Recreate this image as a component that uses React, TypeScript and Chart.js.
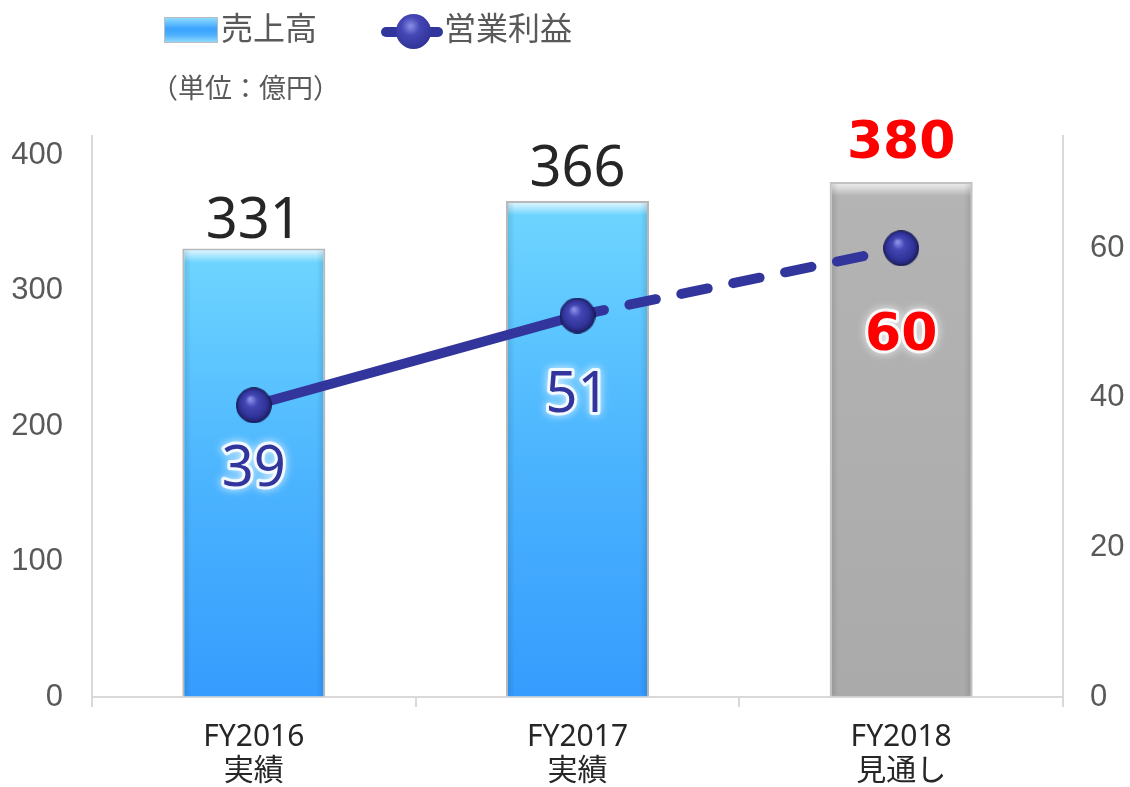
import React, { useEffect, useRef } from "react";
import { Chart, registerables } from "chart.js";

Chart.register(...registerables);

// ---- data ----
const categories: string[][] = [
  ["FY2016", "実績"],
  ["FY2017", "実績"],
  ["FY2018", "見通し"],
];
const sales: number[] = [331, 366, 380];
const operatingProfit: number[] = [39, 51, 60];
const isForecast: boolean[] = [false, false, true];
const leftTicks: number[] = [0, 100, 200, 300, 400];
const rightTicks: number[] = [0, 20, 40, 60];
const legendSales = "売上高";
const legendProfit = "営業利益";
const unitText = "（単位：億円）";

const NAVY = "#32359b";
const LATIN = "'Noto Sans', 'Noto Sans CJK JP', sans-serif";
const CJK = "'Noto Sans CJK JP', 'Noto Sans', sans-serif";

function makeSphere(d: number): HTMLCanvasElement {
  const c = document.createElement("canvas");
  c.width = d;
  c.height = d;
  const g = c.getContext("2d")!;
  const r = d / 2;
  const grad = g.createRadialGradient(r * 0.8, r * 0.65, 1, r, r, r);
  grad.addColorStop(0, "#8a8ee6");
  grad.addColorStop(0.3, "#4548b5");
  grad.addColorStop(0.75, "#2f3296");
  grad.addColorStop(1, "#1a1c5c");
  g.fillStyle = grad;
  g.beginPath();
  g.arc(r, r, r - 0.5, 0, Math.PI * 2);
  g.fill();
  g.strokeStyle = "rgba(20,20,70,0.8)";
  g.lineWidth = 1;
  g.stroke();
  return c;
}

const barLabelGap = [10, 15, 24];
const lineLabelDy = [81, 96, 102];

const valueLabelPlugin = {
  id: "valueLabels",
  afterDatasetsDraw(chart: any) {
    const ctx = chart.ctx as CanvasRenderingContext2D;
    const barMeta = chart.getDatasetMeta(0);
    const lineMeta = chart.getDatasetMeta(1);
    ctx.save();
    ctx.textAlign = "center";
    ctx.textBaseline = "alphabetic";
    barMeta.data.forEach((el: any, i: number) => {
      const txt = String(sales[i]);
      const y = el.y - barLabelGap[i];
      if (isForecast[i]) {
        ctx.font = "bold 52px 'DejaVu Sans', sans-serif";
        ctx.fillStyle = "#ff0000";
      } else {
        ctx.font = `56px ${LATIN}`;
        ctx.fillStyle = "#262626";
      }
      ctx.fillText(txt, el.x, y);
    });
    lineMeta.data.forEach((el: any, i: number) => {
      const txt = String(operatingProfit[i]);
      const y = el.y + lineLabelDy[i];
      if (isForecast[i]) {
        ctx.font = "bold 52px 'DejaVu Sans', sans-serif";
      } else {
        ctx.font = `56px ${LATIN}`;
      }
      ctx.lineJoin = "round";
      ctx.save();
      ctx.shadowColor = "rgba(255,255,255,0.95)";
      ctx.shadowBlur = 8;
      ctx.strokeStyle = "rgba(255,255,255,0.85)";
      ctx.lineWidth = 6;
      ctx.strokeText(txt, el.x, y);
      ctx.restore();
      ctx.fillStyle = isForecast[i] ? "#ff0000" : NAVY;
      ctx.fillText(txt, el.x, y);
    });
    ctx.restore();
  },
};

const bevelPlugin = {
  id: "bevel",
  afterDatasetDraw(chart: any, args: any) {
    if (args.index !== 0) return;
    const ctx = chart.ctx as CanvasRenderingContext2D;
    const meta = chart.getDatasetMeta(0);
    ctx.save();
    meta.data.forEach((el: any) => {
      const left = el.x - el.width / 2 + 2;
      const right = el.x + el.width / 2 - 2;
      const top = el.y + 2;
      const base = el.base - 1;
      const w = right - left;
      const gt = ctx.createLinearGradient(0, top, 0, top + 12);
      gt.addColorStop(0, "rgba(255,255,255,0.75)");
      gt.addColorStop(1, "rgba(255,255,255,0)");
      ctx.fillStyle = gt;
      ctx.fillRect(left, top, w, 12);
      const gl = ctx.createLinearGradient(left, 0, left + 7, 0);
      gl.addColorStop(0, "rgba(0,0,0,0.10)");
      gl.addColorStop(1, "rgba(0,0,0,0)");
      ctx.fillStyle = gl;
      ctx.fillRect(left, top, 7, base - top);
      const gr = ctx.createLinearGradient(right - 7, 0, right, 0);
      gr.addColorStop(0, "rgba(0,0,0,0)");
      gr.addColorStop(1, "rgba(0,0,0,0.10)");
      ctx.fillStyle = gr;
      ctx.fillRect(right - 7, top, 7, base - top);
    });
    ctx.restore();
  },
};

export default function App() {
  const canvasRef = useRef<HTMLCanvasElement | null>(null);

  useEffect(() => {
    document.body.style.margin = "0";
    const canvas = canvasRef.current!;
    const sphere = makeSphere(36);

    const barFill = (c: any) => {
      const chart = c.chart;
      const i = c.dataIndex;
      const forecast = isForecast[i];
      if (!chart.chartArea || c.type !== "data") return forecast ? "#adadad" : "#4ab0ff";
      const y = chart.scales.y;
      const top = y.getPixelForValue(c.raw);
      const base = y.getPixelForValue(0);
      const g = chart.ctx.createLinearGradient(0, top, 0, base);
      if (forecast) {
        g.addColorStop(0, "#b4b4b4");
        g.addColorStop(1, "#aaaaaa");
      } else {
        g.addColorStop(0, "#6fd6ff");
        g.addColorStop(0.5, "#4cb5fe");
        g.addColorStop(1, "#369cfe");
      }
      return g;
    };

    const chart = new Chart(canvas, {
      type: "bar",
      data: {
        labels: categories,
        datasets: [
          {
            type: "bar",
            label: legendSales,
            data: sales,
            yAxisID: "y",
            order: 1,
            backgroundColor: barFill,
            borderColor: (c: any) => (isForecast[c.dataIndex] ? "#c2c2c2" : "#b8b8b8"),
            borderWidth: 2,
            categoryPercentage: 1,
            barPercentage: 0.442,
          } as any,
          {
            type: "line",
            label: legendProfit,
            data: operatingProfit,
            yAxisID: "y1",
            order: 0,
            borderColor: NAVY,
            borderWidth: 10,
            borderCapStyle: "round",
            pointStyle: sphere,
            pointRadius: 18,
            pointHoverRadius: 18,
            tension: 0,
            segment: {
              borderDash: (s: any) => (isForecast[s.p1DataIndex] ? [27, 26] : undefined),
            },
          } as any,
        ],
      },
      options: {
        responsive: false,
        animation: false,
        events: [],
        layout: { padding: { top: 136, left: 0, right: 0, bottom: 0 } },
        plugins: {
          legend: { display: false },
          title: { display: false },
          tooltip: { enabled: false },
        },
        scales: {
          x: {
            type: "category",
            offset: true,
            grid: {
              display: true,
              drawOnChartArea: false,
              drawTicks: true,
              tickLength: 10,
              offset: true,
              color: "#d9d9d9",
              lineWidth: 2,
            },
            border: { display: true, color: "#d9d9d9", width: 2 },
            ticks: {
              color: "#262626",
              padding: 13,
              maxRotation: 0,
              autoSkip: false,
              font: { family: LATIN, size: 30, lineHeight: 1.15 },
            },
            afterFit: (s: any) => {
              s.height = 90;
            },
          },
          y: {
            type: "linear",
            position: "left",
            min: 0,
            max: 414,
            grid: { display: true, drawOnChartArea: false, drawTicks: false },
            border: { display: true, color: "#d9d9d9", width: 2 },
            ticks: {
              color: "#595959",
              padding: 29,
              font: { family: "'Liberation Sans', Arial, sans-serif", size: 31 },
            },
            afterBuildTicks: (s: any) => {
              s.ticks = leftTicks.map((v) => ({ value: v }));
            },
            afterFit: (s: any) => {
              s.width = 92;
            },
          },
          y1: {
            type: "linear",
            position: "right",
            min: 0,
            max: 75,
            grid: { display: true, drawOnChartArea: false, drawTicks: false },
            border: { display: true, color: "#d9d9d9", width: 2 },
            ticks: {
              color: "#595959",
              padding: 27,
              font: { family: "'Liberation Sans', Arial, sans-serif", size: 31 },
            },
            afterBuildTicks: (s: any) => {
              s.ticks = rightTicks.map((v) => ({ value: v }));
            },
            afterFit: (s: any) => {
              s.width = 67;
            },
          },
        },
      } as any,
      plugins: [bevelPlugin, valueLabelPlugin],
    });

    return () => {
      chart.destroy();
    };
  }, []);

  const textStyle: React.CSSProperties = {
    position: "absolute",
    fontFamily: CJK,
    color: "#595959",
    whiteSpace: "nowrap",
  };

  return (
    <div style={{ position: "fixed", left: 0, top: 0, width: 1130, height: 787, background: "#fff" }}>
      <canvas ref={canvasRef} width={1130} height={787} style={{ position: "absolute", left: 0, top: 0, width: 1130, height: 787 }} />
      <div
        style={{
          position: "absolute",
          left: 164,
          top: 17,
          width: 52,
          height: 24,
          border: "1px solid #bdbdbd",
          background: "linear-gradient(to bottom, #8ddcff 0%, #3aa2ff 45%, #4cb0ff 70%, #8fd8ff 100%)",
        }}
      />
      <div style={{ ...textStyle, left: 221, top: 10, fontSize: 32, lineHeight: "32px" }}>{legendSales}</div>
      <div
        style={{
          position: "absolute",
          left: 381,
          top: 27,
          width: 62,
          height: 10,
          borderRadius: 5,
          background: NAVY,
        }}
      />
      <div
        style={{
          position: "absolute",
          left: 396,
          top: 14,
          width: 35,
          height: 35,
          borderRadius: "50%",
          background: "radial-gradient(circle at 42% 35%, #8a8ee6 0%, #4548b5 30%, #2f3296 75%, #1a1c5c 100%)",
        }}
      />
      <div style={{ ...textStyle, left: 444, top: 10, fontSize: 32, lineHeight: "32px" }}>{legendProfit}</div>
      <div style={{ ...textStyle, left: 151, top: 73, fontSize: 27, lineHeight: "27px" }}>{unitText}</div>
    </div>
  );
}
